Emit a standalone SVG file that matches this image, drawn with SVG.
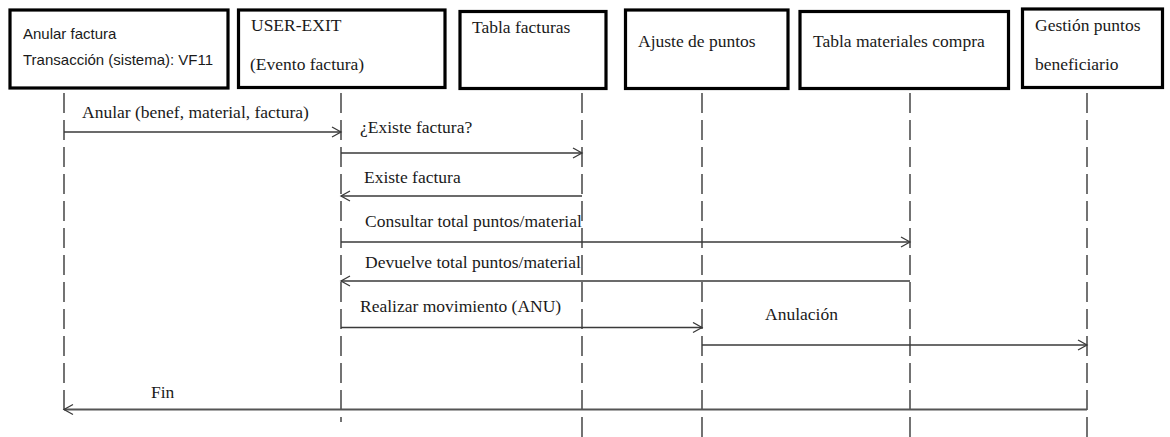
<svg xmlns="http://www.w3.org/2000/svg" width="1170" height="437" viewBox="0 0 1170 437">
  <style>
    .box { fill: #ffffff; stroke: #000000; stroke-width: 3.2; }
    .serif { font-family: "Liberation Serif", "Times New Roman", serif; font-size: 17.5px; fill: #1a1a1a; }
    .sans { font-family: "Liberation Sans", Arial, sans-serif; font-size: 15px; fill: #1a1a1a; }
    .life { stroke: #000000; stroke-width: 1.1; stroke-dasharray: 20 7; fill: none; }
    .msg { stroke: #3a3a3a; stroke-width: 1.3; fill: none; }
    .msg-end { stroke: #555555; stroke-width: 2; fill: none; }
  </style>
  <defs>
    <marker id="open-arrow" markerUnits="userSpaceOnUse" markerWidth="12" markerHeight="14" refX="10" refY="6" orient="auto">
      <path d="M1,1 L10,6 L1,11" fill="none" stroke="#3a3a3a" stroke-width="1.3"/>
    </marker>
  </defs>
  <rect width="1170" height="437" fill="#ffffff"/>

  <!-- lifelines -->
  <g id="lifelines">
    <line class="life" x1="64" y1="93" x2="64" y2="417"/>
    <line class="life" x1="341" y1="93" x2="341" y2="422"/>
    <line class="life" x1="582" y1="93" x2="582" y2="437"/>
    <line class="life" x1="702" y1="93" x2="702" y2="437"/>
    <line class="life" x1="910" y1="93" x2="910" y2="437"/>
    <line class="life" x1="1087" y1="93" x2="1087" y2="437"/>
  </g>

  <!-- participants -->
  <g id="anular-factura">
    <rect class="box" x="10" y="10" width="218" height="78"/>
    <text class="sans" x="23" y="39">Anular factura</text>
    <text class="sans" x="23" y="65">Transacción (sistema): VF11</text>
  </g>
  <g id="user-exit">
    <rect class="box" x="238.5" y="10" width="206.5" height="77.5"/>
    <text class="serif" x="251" y="31">USER-EXIT</text>
    <text class="serif" x="250" y="70">(Evento factura)</text>
  </g>
  <g id="tabla-facturas">
    <rect class="box" x="460" y="11.5" width="146" height="77"/>
    <text class="serif" x="472" y="33">Tabla facturas</text>
  </g>
  <g id="ajuste-puntos">
    <rect class="box" x="625.5" y="10" width="162.5" height="78.5"/>
    <text class="serif" x="638" y="47">Ajuste de puntos</text>
  </g>
  <g id="tabla-materiales">
    <rect class="box" x="800" y="11.5" width="208.5" height="77"/>
    <text class="serif" x="813" y="47">Tabla materiales compra</text>
  </g>
  <g id="gestion-puntos">
    <rect class="box" x="1022.5" y="9" width="140" height="78.5"/>
    <text class="serif" x="1035" y="31">Gestión puntos</text>
    <text class="serif" x="1035" y="70">beneficiario</text>
  </g>

  <!-- messages -->
  <g id="connectors">
    <line class="msg" x1="64" y1="132" x2="341" y2="132" marker-end="url(#open-arrow)"/>
    <line class="msg" x1="341" y1="153" x2="582" y2="153" marker-end="url(#open-arrow)"/>
    <line class="msg" x1="582" y1="196" x2="341" y2="196" marker-end="url(#open-arrow)"/>
    <line class="msg" x1="341" y1="242" x2="910" y2="242" marker-end="url(#open-arrow)"/>
    <line class="msg" x1="910" y1="281" x2="341" y2="281" marker-end="url(#open-arrow)"/>
    <line class="msg" x1="341" y1="327.5" x2="702" y2="327.5" marker-end="url(#open-arrow)"/>
    <line class="msg" x1="702" y1="345" x2="1087" y2="345" marker-end="url(#open-arrow)"/>
    <line class="msg-end" x1="1087" y1="409.5" x2="64" y2="409.5" marker-end="url(#open-arrow)"/>
  </g>

  <!-- message labels -->
  <g id="labels">
    <text class="serif" x="82" y="118">Anular (benef, material, factura)</text>
    <text class="serif" x="360" y="133">¿Existe factura?</text>
    <text class="serif" x="364" y="183">Existe factura</text>
    <text class="serif" x="365" y="227">Consultar total puntos/material</text>
    <text class="serif" x="365" y="268">Devuelve total puntos/material</text>
    <text class="serif" x="360" y="312">Realizar movimiento (ANU)</text>
    <text class="serif" x="765" y="320">Anulación</text>
    <text class="serif" x="151" y="398">Fin</text>
  </g>
</svg>
